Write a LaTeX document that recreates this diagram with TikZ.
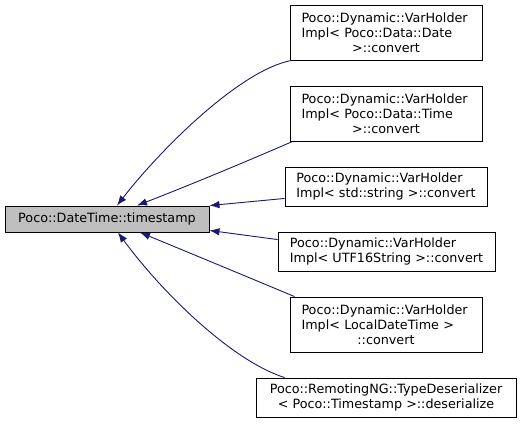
\documentclass[tikz,border=0pt]{standalone}
\usepackage{fontspec}
\setmainfont{DejaVu Sans}
\usetikzlibrary{positioning,arrows.meta}
\definecolor{edgeblue}{HTML}{191970}
\newcommand{\ctrline}[1]{\makebox[\hsize]{#1}}

\begin{document}
\begin{tikzpicture}[x=1bp,y=1bp,
    fn/.style={draw=black,line width=0.9bp,fill=white,inner sep=0pt,align=left,font=\fontsize{12.8}{15}\selectfont},
    cur/.style={fn,fill=black!25},
    call/.style={draw=edgeblue,line width=0.9bp,{Latex[length=10bp,width=7.5bp]}-}]
    \useasboundingbox (0,0) rectangle (521,425);
    \node[cur,minimum width=204bp,minimum height=26bp] (ts) at (107,425-219) {Poco::DateTime::timestamp};
    \node[fn,minimum width=192bp,minimum height=55bp,text width=169bp] (date) at (386,425-32.5)
      {Poco::Dynamic::VarHolder\\Impl< Poco::Data::Date\\\ctrline{>::convert}};
    \node[fn,minimum width=192bp,minimum height=55bp,text width=169bp] (time) at (386,425-113.5)
      {Poco::Dynamic::VarHolder\\Impl< Poco::Data::Time\\\ctrline{>::convert}};
    \node[fn,minimum width=202bp,minimum height=39bp] (str) at (386,425-186.5)
      {Poco::Dynamic::VarHolder\\Impl< std::string >::convert};
    \node[fn,minimum width=217bp,minimum height=39bp] (utf) at (386.5,425-251.5)
      {Poco::Dynamic::VarHolder\\Impl< UTF16String >::convert};
    \node[fn,minimum width=192bp,minimum height=55bp,text width=169bp] (ldt) at (386,425-324.5)
      {Poco::Dynamic::VarHolder\\Impl< LocalDateTime >\\\ctrline{::convert}};
    \node[fn,minimum width=260bp,minimum height=39bp,align=center] (deser) at (386,425-397.5)
      {Poco::RemotingNG::TypeDeserializer\\< Poco::Timestamp >::deserialize};
    % callers, arrows point back at the function
    \draw[call] ([xshift=10bp]ts.north) .. controls (160,425-150) and (240,425-70) .. ([xshift=2bp]date.south west);
    \draw[call] ([xshift=30bp]ts.north) .. controls (190,425-185) and (250,425-160) .. ([xshift=3bp]time.south west);
    \draw[call] ([yshift=0bp]ts.north east) -- ([yshift=8bp]str.south west);
    \draw[call] ([yshift=2bp]ts.south east) -- ([yshift=-8bp]utf.north west);
    \draw[call] ([xshift=33bp]ts.south) .. controls (190,425-253) and (250,425-278) .. ([xshift=5bp]ldt.north west);
    \draw[call] ([xshift=11bp]ts.south) .. controls (160,425-290) and (230,425-360) .. ([xshift=29bp]deser.north west);
\end{tikzpicture}
\end{document}
